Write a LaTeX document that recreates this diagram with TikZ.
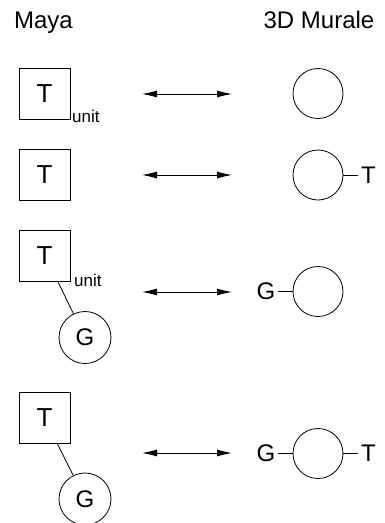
\documentclass[tikz,border=0pt]{standalone}
\usepackage{fontspec}
\setmainfont{Liberation Sans}
\usetikzlibrary{arrows.meta}
\begin{document}
\begin{tikzpicture}[x=1pt,y=-1pt,
  hdr/.style={inner sep=0, font=\fontsize{24}{24}\selectfont},
  sq/.style={draw, line width=0.8pt, minimum size=51pt, inner sep=0, font=\fontsize{26}{26}\selectfont},
  gcirc/.style={draw, circle, line width=0.8pt, minimum size=52pt, inner sep=0, font=\fontsize{24}{24}\selectfont},
  mcirc/.style={draw, circle, line width=0.8pt, minimum size=50pt, inner sep=0},
  lbl/.style={inner sep=0, font=\fontsize{24}{24}\selectfont},
  unitlbl/.style={inner sep=0, anchor=base west, font=\fontsize{17}{17}\selectfont},
  biarrow/.style={line width=0.9pt, {Latex[length=15pt,width=7pt]}-{Latex[length=15pt,width=7pt]}},
  link/.style={line width=0.8pt}]
\useasboundingbox (0,0) rectangle (384,523);
% headers
\node[hdr, anchor=base] (maya) at (43.5,28.5) {Maya};
\node[hdr, anchor=base] (murale) at (319,28.5) {3D Murale};
% row 1
\node[sq] (t1) at (44.5,93.5) {T};
\node[unitlbl] (u1) at (72,122.5) {unit};
\coordinate (a1l) at (142,94);
\coordinate (a1r) at (232,94);
\draw[biarrow] (a1l) -- (a1r);
\node[mcirc] (c1) at (318,93.5) {};
% row 2
\node[sq] (t2) at (44.5,175) {T};
\coordinate (a2l) at (142,175);
\coordinate (a2r) at (232,175);
\draw[biarrow] (a2l) -- (a2r);
\node[mcirc] (c2) at (318,175) {};
\node[lbl] (tr2) at (368.5,175) {T};
\draw[link, shorten >=3pt] (c2.east) -- (tr2.west);
% row 3
\node[sq] (t3) at (44.5,256) {T};
\node[unitlbl] (u3) at (74,286) {unit};
\node[gcirc] (g3) at (85,337.5) {G};
\draw[link] ([xshift=13.5pt]t3.south) -- (g3);
\coordinate (a3l) at (142,292);
\coordinate (a3r) at (232,292);
\draw[biarrow] (a3l) -- (a3r);
\node[mcirc] (c3) at (318,291.5) {};
\node[lbl] (gl3) at (266,291.5) {G};
\draw[link, shorten <=2.5pt] (gl3.east) -- (c3.west);
% row 4
\node[sq] (t4) at (44.5,418) {T};
\node[gcirc] (g4) at (85,499) {G};
\draw[link] ([xshift=13pt]t4.south) -- (g4);
\coordinate (a4l) at (142,453);
\coordinate (a4r) at (232,453);
\draw[biarrow] (a4l) -- (a4r);
\node[mcirc] (c4) at (318,453.5) {};
\node[lbl] (gl4) at (266,453.5) {G};
\draw[link, shorten <=2.5pt] (gl4.east) -- (c4.west);
\node[lbl] (tr4) at (368.5,453.5) {T};
\draw[link, shorten >=3pt] (c4.east) -- (tr4.west);
\end{tikzpicture}
\end{document}
